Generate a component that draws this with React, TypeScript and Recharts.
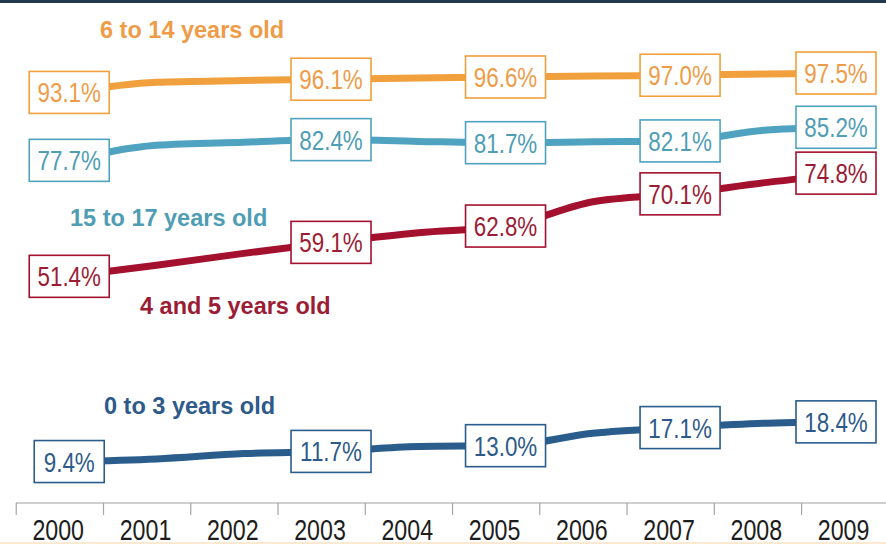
import { LineChart, Line, XAxis, YAxis, LabelList } from "recharts";

const years = [2000, 2001, 2002, 2003, 2004, 2005, 2006, 2007, 2008, 2009];
const labelledYears = [2000, 2003, 2005, 2007, 2009];

// enrollment rate by age group, percent
const age0to3 = [9.4, 10.0, 11.2, 11.7, 12.8, 13.0, 15.8, 17.1, 18.1, 18.4];
const age4and5 = [51.4, 53.9, 56.6, 59.1, 61.3, 62.8, 68.3, 70.1, 72.7, 74.8];
const age6to14 = [93.1, 95.4, 95.8, 96.1, 96.4, 96.6, 96.8, 97.0, 97.3, 97.5];
const age15to17 = [77.7, 81.1, 81.8, 82.4, 82.0, 81.7, 81.9, 82.1, 84.6, 85.2];

const groupNames = ["0 to 3 years old", "4 and 5 years old", "6 to 14 years old", "15 to 17 years old"];

const data = years.map((year, i) => ({
  year,
  a0: age0to3[i],
  a4: age4and5[i],
  a6: age6to14[i],
  a15: age15to17[i],
}));

const W = 886;
const H = 552;
const sans = "'Liberation Sans', Arial, Helvetica, sans-serif";
// condensed look: regular sans squeezed horizontally
const SQUEEZE = 0.8;

const series = [
  { key: "a0", name: groupNames[0], color: "#2a5c8c", text: "#2d5a8a", title: { x: 104, y: 414 } },
  { key: "a4", name: groupNames[1], color: "#a3112f", text: "#9b1c35", title: { x: 140, y: 314 } },
  { key: "a15", name: groupNames[3], color: "#4fa3c0", text: "#4f9db4", title: { x: 70, y: 226 } },
  { key: "a6", name: groupNames[2], color: "#f0a03c", text: "#ee9c48", title: { x: 100, y: 38 } },
];

const NarrowText = ({ x, y, size, fill, children }: any) => (
  <text
    transform={`translate(${x},${y}) scale(${SQUEEZE},1)`}
    textAnchor="middle"
    fontSize={size}
    fill={fill}
    fontFamily={sans}
  >
    {children}
  </text>
);

const makeBox = (stroke: string, fill: string) => (props: any) => {
  const { x, y, value, index } = props;
  if (!labelledYears.includes(years[index])) return null;
  const label = `${Number(value).toFixed(1)}%`;
  const w = label.length > 4 ? 80 : 70;
  const h = 42;
  let left = x - w / 2;
  if (left + w > 876) left = 876 - w;
  return (
    <g>
      <rect x={left} y={y - h / 2} width={w} height={h} fill="#fff" stroke={stroke} strokeWidth={1.6} />
      <NarrowText x={left + w / 2} y={y + 10} size={28} fill={fill}>
        {label}
      </NarrowText>
    </g>
  );
};

const YearTick = (props: any) => {
  const { x, y, payload } = props;
  return (
    <g>
      <line x1={x - 53} x2={x - 53} y1={y} y2={y + 12} stroke="#a5a5a5" strokeWidth={1.2} />
      <NarrowText x={x - 11} y={y + 37} size={29} fill="#1d1d1d">
        {payload.value}
      </NarrowText>
    </g>
  );
};

export default function App() {
  return (
    <div style={{ position: "relative", width: W, height: H, background: "#fff" }}>
      <style>{`body{margin:0}`}</style>
      <LineChart width={W} height={H} data={data} margin={{ top: 62, right: 0, left: 16, bottom: 0 }}>
        <XAxis
          dataKey="year"
          type="number"
          domain={[1999.39, 2009.36]}
          allowDataOverflow
          ticks={years}
          interval={0}
          height={49}
          tickSize={0}
          tickMargin={0}
          tickLine={false}
          axisLine={{ stroke: "#a0a0a0", strokeWidth: 1.2 }}
          tick={<YearTick />}
        />
        <YAxis hide domain={[0, 100]} />
        {series.map((s) => (
          <Line
            key={s.key}
            dataKey={s.key}
            name={s.name}
            type="monotone"
            stroke={s.color}
            strokeWidth={7}
            dot={false}
            activeDot={false}
            isAnimationActive={false}
          >
            <LabelList dataKey={s.key} content={makeBox(s.color, s.text)} />
          </Line>
        ))}
      </LineChart>
      <svg width={W} height={H} style={{ position: "absolute", left: 0, top: 0, pointerEvents: "none" }}>
        <rect x={0} y={0} width={W} height={3} fill="#23394f" />
        <rect x={0} y={542} width={W} height={2} fill="#fbe9d2" />
        {series.map((s) => (
          <text key={s.key} x={s.title.x} y={s.title.y} fontSize={23.5} fontWeight="bold" fill={s.text} fontFamily={sans}>
            {s.name}
          </text>
        ))}
      </svg>
    </div>
  );
}
